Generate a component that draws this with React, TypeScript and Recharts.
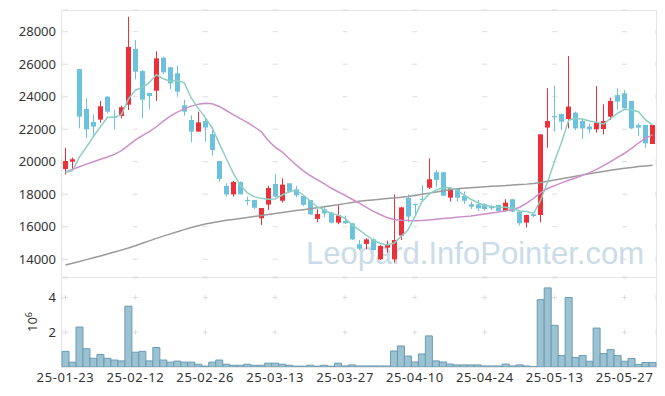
import React from 'react'
import { ComposedChart, Bar, Line, XAxis, YAxis, CartesianGrid } from 'recharts'

const dates = [
  '25-01-23','25-01-24','25-01-31','25-02-03','25-02-04','25-02-05','25-02-06','25-02-07','25-02-10','25-02-11',
  '25-02-12','25-02-13','25-02-14','25-02-17','25-02-18','25-02-19','25-02-20','25-02-21','25-02-24','25-02-25',
  '25-02-26','25-02-27','25-02-28','25-03-04','25-03-05','25-03-06','25-03-07','25-03-10','25-03-11','25-03-12',
  '25-03-13','25-03-14','25-03-17','25-03-18','25-03-19','25-03-20','25-03-21','25-03-24','25-03-25','25-03-26',
  '25-03-27','25-03-28','25-03-31','25-04-01','25-04-02','25-04-03','25-04-04','25-04-07','25-04-08','25-04-09',
  '25-04-10','25-04-11','25-04-14','25-04-15','25-04-16','25-04-17','25-04-18','25-04-21','25-04-22','25-04-23',
  '25-04-24','25-04-25','25-04-28','25-04-29','25-04-30','25-05-02','25-05-07','25-05-08','25-05-09','25-05-12',
  '25-05-13','25-05-14','25-05-15','25-05-16','25-05-19','25-05-20','25-05-21','25-05-22','25-05-23','25-05-26',
  '25-05-27','25-05-28','25-05-29','25-05-30','25-06-02',
]

const opens = [
  19550,20000,25700,23250,22440,22590,24000,22750,22810,23510,
  26940,25580,24230,24370,26400,25810,25440,23470,22570,21850,
  22500,21700,20040,18510,17990,18750,17640,17640,16520,17360,
  18630,17600,18670,18300,17890,17640,16480,17070,16870,16250,
  16350,16210,14920,14940,15220,13990,14710,13990,15450,17770,
  17400,17710,18400,19350,19350,17790,18320,17890,17380,17380,
  17380,17280,17340,16970,17690,16930,16250,16760,16720,22100,
  22810,22940,22630,23020,22500,22160,21990,22010,22770,24100,
  24210,23740,22260,22260,21090,
]
const highs = [
  20860,20250,25700,23900,22910,23740,24040,23200,23450,28920,
  27490,25650,24250,26790,26460,25830,25910,23800,22850,23080,
  22670,22120,20040,18670,18810,18790,17850,17660,17150,18510,
  19240,18980,18680,18510,17900,17650,17070,17230,16930,17360,
  16680,16210,15180,15290,15290,14880,15140,17990,17230,17990,
  17420,18570,20210,19490,19350,18370,18360,18160,17540,17640,
  17440,17340,17340,17690,17690,16930,16730,16870,21690,24520,
  24680,22960,26500,23080,22670,22360,24660,23530,23940,24520,
  24410,23740,22360,22260,22260,
]
const lows = [
  19220,19500,22050,21480,21480,22400,22980,22000,22670,23180,
  25070,22670,23220,23740,25380,24450,24000,22830,21190,21850,
  21230,20370,18770,17850,17850,17990,17320,17070,16110,17030,
  17810,17480,18100,17810,17280,16720,16290,16580,16210,16150,
  16170,15180,14570,14610,14530,13950,14400,13790,15180,16270,
  16620,17640,18320,18420,17910,17540,17540,17400,17090,16970,
  16970,17030,16930,16930,16890,16070,15960,16580,16270,20860,
  21850,21950,22050,21950,21380,21750,21790,21690,22570,23220,
  23180,21990,21580,20860,21090,
]
const closes = [
  20040,20150,22770,21990,22160,23410,23080,22700,23350,27060,
  25540,23820,24040,26360,25500,24820,24310,23080,21850,22420,
  22100,20720,18940,17990,18750,17990,17580,17170,17150,18380,
  17850,18590,18160,17930,17340,16760,16780,16820,16250,16700,
  16210,15220,14650,15220,14570,14810,14920,15180,17190,16620,
  17340,17640,18920,18880,17910,18360,17790,17600,17230,17130,
  17090,17130,16970,17480,16930,16210,16720,16660,21680,22500,
  22730,22460,23390,22050,22050,21990,22420,22500,23740,23700,
  23290,22050,22100,21130,22260,
]
// volume, millions of shares
const volumes = [
  0.9,0.28,2.3,1.05,0.5,0.72,0.5,0.4,0.35,3.5,
  0.85,0.9,0.35,1.12,0.4,0.28,0.34,0.28,0.28,0.16,
  0.05,0.28,0.4,0.16,0.1,0.1,0.16,0.1,0.1,0.22,
  0.22,0.16,0.1,0.05,0.05,0.1,0.05,0.1,0.05,0.22,
  0.06,0.12,0.06,0.06,0.06,0.06,0.06,0.92,1.21,0.63,
  0.29,0.75,1.79,0.35,0.29,0.17,0.12,0.12,0.12,0.12,
  0.06,0.06,0.06,0.17,0.06,0.12,0.06,0.02,3.87,4.55,
  2.4,0.66,4.0,0.55,0.66,0.33,2.24,0.77,1.0,0.66,
  0.33,0.49,0.15,0.26,0.26,
]
const ma5 = [
  19350,19450,20300,20900,21550,22150,22730,22730,22900,23850,
  24400,24580,24860,25360,25100,24950,25000,24850,23920,23280,
  22720,22060,21130,20210,19290,18570,18100,17850,17750,17690,
  17710,17950,18150,18260,17950,17600,17230,17030,16820,16720,
  16520,16110,15800,15490,15180,14980,14880,14980,15390,15800,
  16620,17540,17990,18260,18400,18400,18260,17950,17690,17480,
  17340,17230,17190,17190,17130,16970,16930,16820,17640,18760,
  20060,21210,22550,22670,22610,22500,22420,22320,22670,22980,
  23220,23180,23080,22570,22260,
]
const ma20 = [
  19370,19530,19690,19850,20000,20150,20290,20450,20680,21000,
  21340,21600,21850,22150,22500,22800,23050,23250,23420,23540,
  23590,23570,23400,23150,22900,22650,22420,22150,21850,21300,
  20900,20600,20200,19800,19450,19150,18900,18650,18380,18150,
  17930,17690,17460,17200,16960,16750,16570,16450,16400,16380,
  16370,16380,16420,16460,16500,16540,16580,16620,16660,16720,
  16780,16840,16900,16980,17060,17200,17450,17750,18100,18350,
  18530,18700,18860,19000,19160,19330,19530,19760,20010,20270,
  20520,20820,21150,21450,21650,
]
const ma120 = [
  13645,13755,13865,13975,14085,14200,14320,14440,14560,14690,
  14830,14980,15130,15280,15420,15560,15690,15820,15950,16060,
  16170,16250,16320,16390,16450,16510,16570,16630,16690,16750,
  16810,16870,16930,16990,17050,17110,17170,17230,17290,17350,
  17420,17490,17560,17610,17650,17690,17730,17770,17810,17860,
  17920,17990,18060,18130,18200,18270,18330,18370,18400,18430,
  18460,18490,18510,18530,18560,18590,18620,18660,18720,18800,
  18870,18950,19030,19110,19190,19260,19330,19400,19470,19540,
  19600,19650,19700,19740,19775,
]
const priceTicks = [14000, 16000, 18000, 20000, 22000, 24000, 26000, 28000]
const volumeTicks = [2, 4]

const rows = dates.map((date, i) => ({
  date,
  open: opens[i],
  high: highs[i],
  low: lows[i],
  close: closes[i],
  volume: volumes[i],
  ma5: ma5[i],
  ma20: ma20[i],
  ma120: ma120[i],
}))

const UP = '#ec3039'
const DOWN = '#6cc1dc'
const tickStyle = { fontSize: 13, fill: '#333', fontFamily: '"Noto Sans", sans-serif' }
const dateTickStyle = { ...tickStyle, letterSpacing: 0.6 }

function Candle(props: any) {
  const { x, y, width, height, payload } = props
  if (x == null || y == null) return null
  const { open, close, high, low } = payload
  const top = Math.min(y, y + height)
  const h = Math.abs(height)
  const span = high - low
  const py = (v: number) => (span > 0 ? top + ((high - v) / span) * h : top)
  const color = close >= open ? UP : DOWN
  const cx = Math.floor(x + width / 2) + 0.5
  const bTop = py(Math.max(open, close))
  const bBot = py(Math.min(open, close))
  return (
    <g>
      <line x1={cx} x2={cx} y1={top} y2={top + h} stroke={color} strokeWidth={1} />
      <rect x={cx - 2.5} y={bTop} width={5} height={Math.max(1, bBot - bTop)} fill={color} />
    </g>
  )
}

export default function App() {
  return (
    <div style={{ position: 'absolute', left: 0, top: 0, width: 665, height: 396, background: '#fff' }}>
      <div style={{ position: 'absolute', left: 61, top: 10, width: 596, height: 268, border: '1px solid #e6e6e6', boxSizing: 'border-box' }} />
      <div style={{ position: 'absolute', left: 61, top: 277, width: 596, height: 91, border: '1px solid #e6e6e6', boxSizing: 'border-box' }} />
      <svg width={665} height={396} style={{ position: 'absolute', left: 0, top: 0 }}>
        <text x={306} y={264} fontSize={32} textLength={338} lengthAdjust="spacingAndGlyphs"
          fill="#c9dce7" fontFamily='"Liberation Sans", sans-serif'>Leopard.InfoPointer.com</text>
        <text transform="translate(37,322) rotate(-90)" textAnchor="middle" fontSize={13} fill="#333"
          fontFamily='"Noto Sans", sans-serif'>10<tspan dy={-5} fontSize={9}>6</tspan></text>
      </svg>
      <div style={{ position: 'absolute', left: 0, top: 0 }}>
        <ComposedChart width={665} height={277} data={rows} margin={{ top: 10, right: 9, bottom: 0, left: 0 }}>
          <CartesianGrid horizontal={false} stroke="#dddddd" strokeDasharray="5 27.5" strokeDashoffset={13.31} />
          <CartesianGrid vertical={false} stroke="#dddddd" strokeDasharray="5 64.88" strokeDashoffset={68.89} />
          <XAxis dataKey="date" interval={9} height={0} tick={false} tickLine={false} axisLine={false} />
          <YAxis domain={[12905, 29335]} ticks={priceTicks} allowDataOverflow width={62} tickLine={false}
            tickSize={4} axisLine={false} tick={tickStyle} />
          <Bar dataKey={(d: any) => [d.low, d.high]} shape={<Candle />} isAnimationActive={false} />
          <Line type="linear" dataKey="ma120" stroke="#9a9a9a" strokeWidth={1.5} dot={false} isAnimationActive={false} />
          <Line type="linear" dataKey="ma20" stroke="#cd8fca" strokeWidth={1.5} dot={false} isAnimationActive={false} />
          <Line type="linear" dataKey="ma5" stroke="#8dcfc4" strokeWidth={1.5} dot={false} isAnimationActive={false} />
        </ComposedChart>
      </div>
      <div style={{ position: 'absolute', left: 0, top: 277 }}>
        <ComposedChart width={665} height={119} data={rows} margin={{ top: 1, right: 9, bottom: 0, left: 0 }}
          barCategoryGap={0} barGap={0}>
          <CartesianGrid horizontal={false} stroke="#dddddd" strokeDasharray="5 29.77" strokeDashoffset={17.8} />
          <CartesianGrid vertical={false} stroke="#dddddd" strokeDasharray="5 64.88" strokeDashoffset={68.89} />
          <XAxis dataKey="date" interval={9} height={29} tickLine={false} tickSize={4} axisLine={false} tick={dateTickStyle} />
          <YAxis domain={[0, 5.12]} ticks={volumeTicks} allowDataOverflow width={62} tickLine={false}
            tickSize={4} axisLine={false} tick={tickStyle} />
          <Bar dataKey="volume" fill="#9cc1d1" stroke="#6a9cb3" strokeWidth={1} isAnimationActive={false} />
        </ComposedChart>
      </div>
    </div>
  )
}
